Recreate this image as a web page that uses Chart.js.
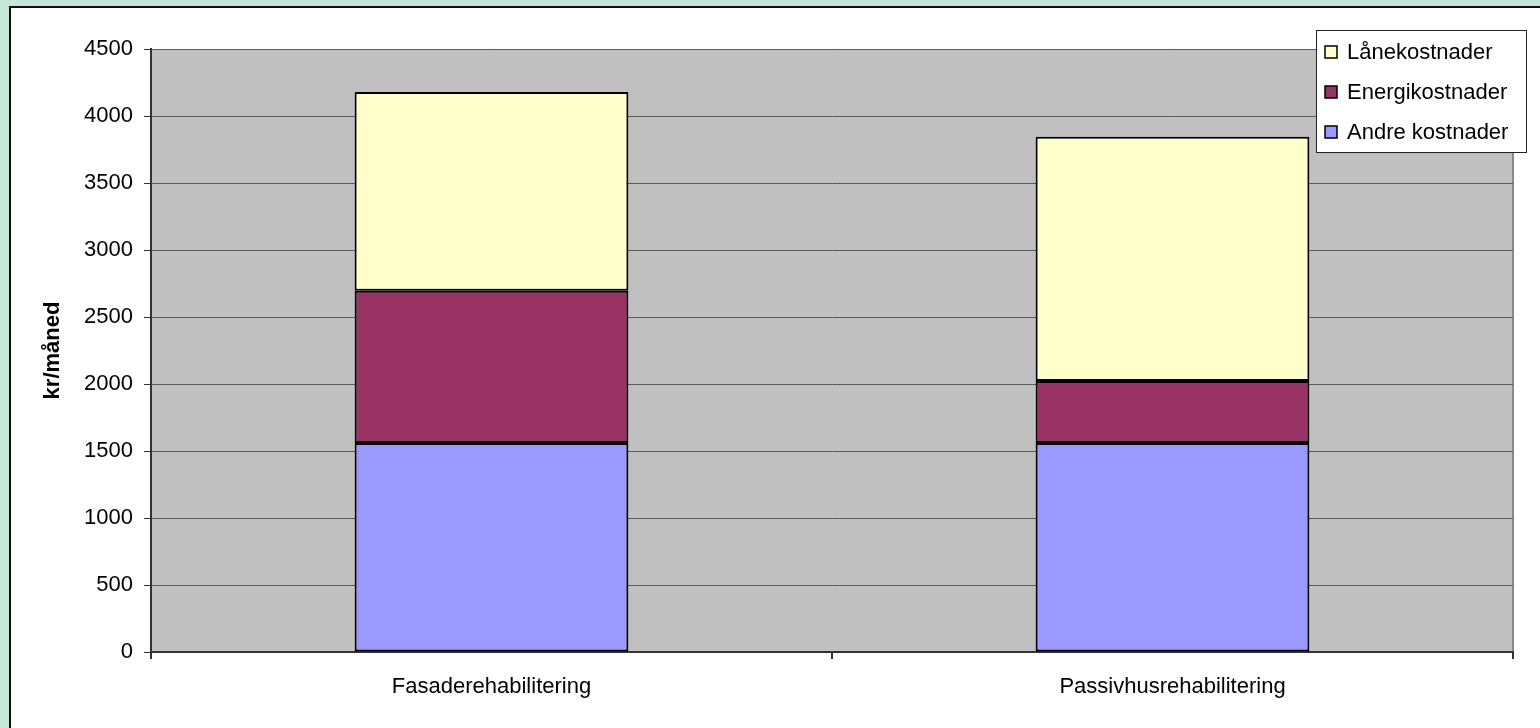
<!DOCTYPE html>
<html>
<head>
<meta charset="utf-8">
<script src="https://cdn.jsdelivr.net/npm/chart.js"></script>
<style>
  html, body { margin: 0; padding: 0; }
  body { width: 1540px; height: 728px; background: #c6e6d6; position: relative; overflow: hidden; }
  #panel { position: absolute; left: 9px; top: 6px; right: 0; bottom: 0; background: #fff;
           border-left: 2px solid #111; border-top: 2px solid #111; }
  #myChart { position: absolute; left: 0; top: 0; }
</style>
</head>
<body>
<div id="panel"></div>
<canvas id="myChart" width="1540" height="728"></canvas>
<script>
var kategorier = ["Fasaderehabilitering", "Passivhusrehabilitering"];
var andreKostnader = [1560, 1560];
var energiKostnader = [1135, 463];
var laneKostnader = [1485, 1822];

var FONT = "'Liberation Sans', Arial, sans-serif";

// grå plottflate + ramme til høyre
var plotBakgrunn = {
    id: "plotBakgrunn",
    beforeDraw: function (chart) {
        var a = chart.chartArea, ctx = chart.ctx;
        ctx.save();
        ctx.fillStyle = "#c0c0c0";
        ctx.fillRect(a.left, a.top, a.right - a.left, a.bottom - a.top);
        ctx.strokeStyle = "#888";
        ctx.lineWidth = 2;
        ctx.beginPath();
        ctx.moveTo(a.right, a.top);
        ctx.lineTo(a.right, a.bottom);
        ctx.stroke();
        ctx.restore();
    }
};

// forklaring i boks, som i Excel
var forklaring = {
    id: "forklaring",
    afterDraw: function (chart) {
        var ctx = chart.ctx;
        var x = 1316, y = 30, w = 210, h = 122;
        ctx.save();
        ctx.fillStyle = "#fff";
        ctx.fillRect(x, y, w, h);
        ctx.strokeStyle = "#222";
        ctx.lineWidth = 1;
        ctx.strokeRect(x + 0.5, y + 0.5, w, h);
        ctx.font = "22px " + FONT;
        ctx.textBaseline = "middle";
        var sets = chart.data.datasets.slice().reverse();
        sets.forEach(function (ds, i) {
            var cy = y + 22 + i * 40;
            ctx.fillStyle = ds.backgroundColor;
            ctx.fillRect(x + 9, cy - 6, 12, 12);
            ctx.strokeStyle = "#000";
            ctx.lineWidth = 1.5;
            ctx.strokeRect(x + 9, cy - 6, 12, 12);
            ctx.fillStyle = "#000";
            ctx.fillText(ds.label, x + 31, cy + 1);
        });
        ctx.restore();
    }
};

var datos = {
    labels: kategorier,
    datasets: [
        { label: "Andre kostnader", backgroundColor: "#9999ff", data: andreKostnader },
        { label: "Energikostnader", backgroundColor: "#993366", data: energiKostnader },
        { label: "Lånekostnader", backgroundColor: "#ffffcc", data: laneKostnader }
    ]
};
datos.datasets.forEach(function (ds) {
    ds.borderColor = "#000";
    ds.borderWidth = 2;
    ds.borderSkipped = false;
    ds.barPercentage = 0.402;
    ds.categoryPercentage = 1.0;
});

var canvas = document.getElementById("myChart").getContext("2d");
window.bar = new Chart(canvas, {
    type: "bar",
    data: datos,
    plugins: [plotBakgrunn, forklaring],
    options: {
        responsive: false,
        animation: false,
        layout: { padding: { left: 0, top: 49, right: 27, bottom: 0 } },
        plugins: {
            legend: { display: false },
            tooltip: { enabled: false }
        },
        scales: {
            x: {
                stacked: true,
                afterFit: function (s) { s.height = 76; },
                grid: { offset: true, drawOnChartArea: false, color: "#333", lineWidth: 2, tickLength: 7 },
                border: { color: "#333", width: 2 },
                ticks: { color: "#000", font: { family: FONT, size: 22 }, padding: 15 }
            },
            y: {
                stacked: true,
                min: 0,
                max: 4500,
                afterFit: function (s) { s.width = 151; },
                grid: { color: "#5a5a5a", lineWidth: 1, tickLength: 7, tickColor: "#333" },
                border: { color: "#333", width: 2 },
                ticks: {
                    stepSize: 500,
                    color: "#000",
                    font: { family: FONT, size: 22 },
                    padding: 11,
                    callback: function (v) { return String(v); }
                },
                title: {
                    display: true,
                    text: "kr/måned",
                    color: "#000",
                    font: { family: FONT, size: 22, weight: "bold" },
                    padding: { top: 40, bottom: 0 }
                }
            }
        }
    }
});
</script>
</body>
</html>
